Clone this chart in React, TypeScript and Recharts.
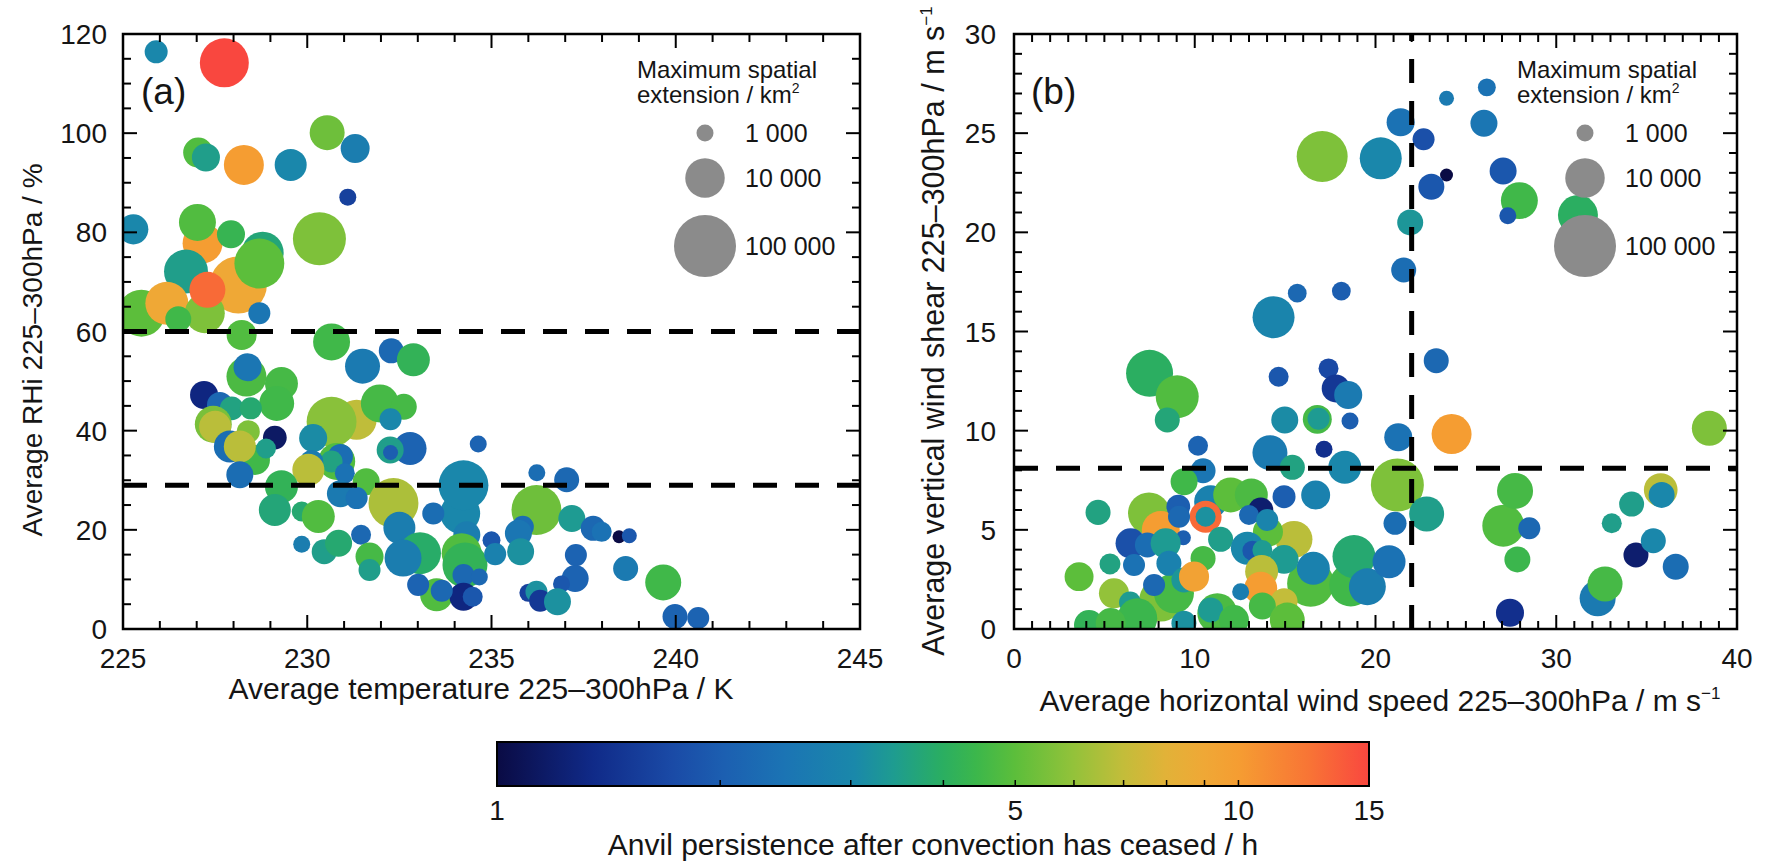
import { ScatterChart, Scatter, XAxis, YAxis, ReferenceLine, ReferenceArea, ComposedChart } from "recharts";

const FONT = '"Liberation Sans", Arial, Helvetica, sans-serif';
const INK = "#151515";

// panel (a): [average temperature K, average RHi %, max spatial extension km², anvil persistence h]
const panelA: number[][] = [
  [228.13, 69.4, 60000, 9.0], [230.33, 78.7, 40000, 5.6], [225.9, 116.4, 1850, 3.0], [227.75, 114.2, 26400, 15],
  [227.04, 96.1, 3800, 4.8], [227.25, 95.1, 3100, 3.5], [228.28, 93.6, 10500, 10], [229.55, 93.6, 4640, 3.0],
  [230.54, 100.1, 6300, 5.3], [231.3, 96.9, 3400, 2.7], [231.1, 87.1, 1000, 1.6], [225.28, 80.6, 3800, 3.0],
  [227.16, 77.8, 10500, 10], [227.02, 82.0, 7700, 4.8], [227.93, 79.6, 3100, 4.3], [228.79, 75.9, 12900, 3.7],
  [228.7, 73.7, 29000, 5.0], [225.5, 63.7, 21500, 5.0], [226.71, 72.1, 15800, 3.5], [226.19, 65.7, 14300, 9.0],
  [227.22, 63.7, 10500, 5.6], [227.29, 68.4, 7000, 13], [226.5, 62.5, 2500, 4.5], [228.7, 63.7, 1670, 2.5],
  [228.22, 59.3, 3800, 4.8], [230.66, 57.9, 7700, 4.5], [231.5, 53.0, 6300, 2.6], [232.28, 56.1, 2270, 2.2],
  [232.88, 54.3, 5140, 4.2], [228.35, 50.9, 10500, 4.7], [228.38, 52.8, 3100, 2.5], [229.3, 49.5, 5140, 4.6],
  [229.17, 45.5, 6300, 4.5], [227.2, 47.2, 3100, 1.3], [227.63, 45.2, 2500, 2.2], [227.95, 44.5, 2000, 3.6],
  [228.47, 44.5, 1670, 3.8], [227.45, 41.3, 7700, 5.5], [227.5, 40.8, 4640, 6.8], [228.4, 39.8, 1850, 5.6],
  [229.12, 38.6, 2000, 1.15], [227.9, 36.8, 4640, 2.3], [228.58, 34.1, 3800, 4.5], [228.17, 36.8, 4640, 6.8],
  [228.88, 36.4, 1360, 3.5], [228.17, 31.1, 2780, 2.3], [231.34, 42.2, 10500, 6.9], [230.66, 41.8, 29000, 5.8],
  [231.97, 45.5, 8570, 4.6], [232.62, 44.8, 2510, 4.6], [232.26, 42.3, 1670, 3.0], [230.16, 38.5, 3100, 3.1],
  [232.79, 36.4, 5140, 2.1], [232.25, 36.1, 2780, 3.5], [232.26, 35.6, 815, 2.0], [234.64, 37.3, 1000, 2.1],
  [230.8, 33.8, 7700, 4.8], [230.9, 34.8, 2270, 2.3], [230.66, 33.8, 1670, 3.6], [230.12, 33.8, 1850, 2.6],
  [230.03, 32.1, 4640, 6.8], [231.02, 31.4, 1360, 2.4], [236.23, 31.5, 1000, 2.3], [237.04, 30.1, 2270, 2.2],
  [234.15, 23.3, 10500, 3.0], [234.24, 29.0, 29000, 3.0], [229.3, 28.7, 5140, 4.2], [231.6, 29.7, 2780, 4.8],
  [232.34, 25.4, 29000, 6.5], [236.22, 24.0, 29000, 5.3], [229.12, 24.0, 4640, 3.7], [229.85, 23.7, 1360, 3.8],
  [230.3, 22.7, 5140, 4.8], [230.9, 27.3, 2780, 2.6], [231.34, 26.4, 1670, 2.4], [233.42, 23.3, 1670, 2.3],
  [237.18, 22.3, 2780, 3.4], [235.85, 20.6, 1670, 2.3], [234.33, 19.0, 2780, 2.7], [232.5, 20.4, 4640, 2.7],
  [233.06, 15.3, 12900, 3.9], [232.6, 14.3, 7700, 2.7], [234.19, 15.3, 10500, 4.8], [234.28, 12.9, 17500, 4.2],
  [234.24, 10.9, 1670, 2.2], [234.67, 10.5, 1000, 2.2], [233.51, 6.9, 5140, 4.8], [234.24, 6.5, 3100, 1.3],
  [234.49, 6.5, 1360, 1.9], [233.65, 7.7, 1670, 2.2], [233.01, 8.9, 1670, 2.1], [235.0, 17.9, 1100, 1.9],
  [235.1, 15.1, 1670, 2.8], [235.73, 19.3, 2780, 2.5], [235.79, 15.6, 2780, 3.2], [237.29, 14.9, 1670, 2.1],
  [237.27, 10.2, 2780, 2.1], [236.9, 9.1, 1000, 1.9], [236.0, 7.3, 1100, 1.6], [236.22, 7.5, 1670, 3.2],
  [236.32, 5.7, 1670, 1.5], [236.79, 5.5, 2780, 3.2], [237.76, 20.3, 2270, 2.2], [237.99, 19.6, 1360, 2.4],
  [238.46, 18.6, 660, 1.0], [238.74, 18.8, 815, 1.9], [238.64, 12.2, 2270, 2.6], [239.66, 9.4, 7000, 4.5],
  [239.98, 2.5, 2270, 2.1], [240.61, 2.2, 1670, 2.1], [229.85, 17.1, 1000, 2.7], [230.46, 15.6, 2270, 3.5],
  [230.85, 17.3, 2780, 3.8], [231.46, 19.0, 1360, 2.2], [231.69, 14.6, 3100, 4.6], [231.69, 11.9, 1670, 3.5],
];

// panel (b): [horizontal wind speed m/s, vertical wind shear m/s, max spatial extension km², anvil persistence h]
const panelB: number[][] = [
  [17.05, 23.82, 32400, 5.6], [20.29, 23.73, 12900, 3.0], [26.16, 27.31, 1100, 2.4], [23.93, 26.76, 815, 2.6],
  [21.39, 25.55, 3100, 2.4], [26.0, 25.5, 2780, 2.5], [22.66, 24.69, 1670, 1.8], [23.93, 22.89, 660, 1.0],
  [23.09, 22.3, 2510, 1.9], [27.06, 23.09, 2780, 1.9], [31.2, 20.87, 10500, 4.0], [27.96, 21.6, 7700, 4.5],
  [27.32, 20.84, 1000, 1.9], [21.92, 20.5, 2510, 3.3], [21.56, 18.1, 2270, 2.3], [15.67, 16.93, 1200, 2.2],
  [18.11, 17.04, 1200, 2.0], [14.36, 15.72, 12900, 2.9], [23.36, 13.53, 2270, 2.2], [7.5, 12.89, 21500, 4.0],
  [9.03, 11.71, 14300, 4.8], [14.64, 12.72, 1360, 1.9], [17.4, 13.14, 1360, 1.7], [17.8, 12.13, 3100, 1.5],
  [18.49, 11.8, 3100, 2.6], [8.48, 10.54, 2270, 3.7], [10.18, 9.24, 1360, 2.1], [14.98, 10.54, 2780, 3.1],
  [16.78, 10.57, 3400, 4.6], [16.85, 10.6, 1670, 3.4], [18.59, 10.49, 1000, 2.0], [21.26, 9.67, 3100, 2.4],
  [14.16, 8.89, 6300, 2.6], [17.15, 9.06, 1000, 1.4], [15.4, 8.15, 2270, 3.6], [18.3, 8.15, 5140, 3.0],
  [10.46, 7.98, 2270, 2.5], [9.41, 7.43, 2780, 4.5], [21.21, 7.26, 39800, 5.6], [24.21, 9.83, 10500, 10],
  [38.47, 10.12, 6300, 5.6], [7.47, 5.83, 12900, 5.6], [8.12, 4.99, 8570, 10], [4.65, 5.88, 2270, 3.6],
  [10.88, 6.42, 5140, 2.8], [11.99, 6.76, 6300, 5.0], [13.13, 6.76, 5140, 4.7], [9.09, 6.17, 2000, 2.0],
  [14.94, 6.67, 1850, 2.0], [16.69, 6.76, 3400, 2.8], [10.6, 5.66, 4640, 13], [10.6, 5.66, 1360, 3.2],
  [15.49, 4.52, 7700, 6.8], [14.05, 4.9, 3800, 5.0], [13.65, 6.0, 2270, 1.2], [13.0, 5.75, 1360, 2.2],
  [14.01, 5.5, 1670, 2.9], [9.13, 5.66, 1670, 2.2], [9.37, 4.6, 815, 2.0], [11.43, 4.52, 2270, 3.5],
  [6.45, 4.32, 3800, 1.8], [7.38, 4.24, 2270, 2.3], [8.39, 4.32, 3800, 3.4], [12.91, 4.07, 5140, 3.0],
  [13.19, 3.95, 1360, 1.9], [13.74, 3.98, 1360, 3.4], [16.41, 2.3, 21500, 4.8], [18.63, 2.22, 14300, 4.5],
  [18.81, 3.65, 14300, 3.8], [19.55, 2.13, 7700, 2.7], [20.75, 3.39, 5140, 2.4], [14.94, 3.51, 3400, 3.4],
  [10.46, 3.56, 2270, 4.6], [16.56, 3.06, 5140, 2.8], [8.12, 1.46, 14300, 5.6], [8.85, 1.8, 10500, 4.6],
  [5.31, 3.28, 1500, 3.6], [3.6, 2.64, 3400, 5.0], [6.64, 3.23, 1670, 2.4], [7.75, 2.22, 1670, 2.2],
  [8.57, 3.31, 2270, 2.8], [9.4, 2.47, 2270, 3.3], [9.96, 2.64, 3800, 9.5], [5.53, 1.8, 3800, 6.0],
  [6.42, 1.33, 1670, 3.4], [13.7, 2.9, 5140, 6.8], [13.65, 2.05, 5140, 10], [12.54, 1.88, 1000, 2.7],
  [14.94, 1.38, 2780, 7.0], [13.74, 1.16, 2780, 4.6], [11.25, 0.79, 10500, 4.7], [10.88, 0.96, 2270, 3.4],
  [9.4, 0.29, 2270, 3.2], [6.82, 0.54, 10500, 4.4], [4.15, 0.2, 3800, 4.2], [5.35, 0.3, 3800, 4.6],
  [12.17, 0.45, 3800, 4.5], [15.12, 0.45, 6300, 5.0], [21.08, 5.33, 1850, 2.3], [22.83, 5.8, 6300, 3.5],
  [27.07, 5.21, 12900, 4.8], [27.72, 6.96, 7000, 4.6], [28.51, 5.08, 1670, 2.2], [27.85, 3.51, 2510, 4.4],
  [27.44, 0.82, 3100, 1.4], [32.29, 1.55, 7000, 2.6], [32.7, 2.27, 6300, 4.6], [33.07, 5.33, 1360, 3.5],
  [34.17, 6.3, 2270, 3.5], [34.41, 3.73, 2270, 1.2], [35.37, 4.45, 2270, 3.0], [35.78, 7.01, 5500, 6.8],
  [35.83, 6.76, 2510, 3.0], [36.61, 3.14, 2510, 2.3],
];

const tempMajor = [225, 230, 235, 240, 245];
const rhiMajor = [0, 20, 40, 60, 80, 100, 120];
const windMajor = [0, 10, 20, 30, 40];
const shearMajor = [0, 5, 10, 15, 20, 25, 30];
const rhiThresholds = [60, 29];
const windThreshold = 22;
const shearThreshold = 8.1;

const legendAreas = [1000, 10000, 100000];
const legendLabels = ["1 000", "10 000", "100 000"];
const cbarTicks = [1, 2, 3, 4, 5, 6, 7, 8, 9, 10, 15];
const cbarLabels = [1, 5, 10, 15];

// colour map, position along log(h)/log(15)
const COLOR_STOPS: [number, string][] = [
  [0, "#0a0b44"], [0.11, "#102a88"], [0.2, "#1a4aa6"], [0.26, "#1c5fb1"], [0.33, "#1b74b4"],
  [0.41, "#1a88aa"], [0.455, "#1e9c90"], [0.51, "#2aae62"], [0.55, "#3cb74b"], [0.594, "#5cbe3b"],
  [0.66, "#92c23a"], [0.717, "#c2bd3a"], [0.767, "#e2b238"], [0.81, "#efa836"], [0.85, "#f59d32"],
  [0.93, "#f87535"], [1, "#f9473f"],
];

const hex = (c: string) => [1, 3, 5].map((i) => parseInt(c.slice(i, i + 2), 16));

function persistColor(h: number) {
  const t = Math.min(1, Math.max(0, Math.log(h) / Math.log(15)));
  for (let i = 1; i < COLOR_STOPS.length; i++) {
    const [t1, c1] = COLOR_STOPS[i];
    if (t <= t1) {
      const [t0, c0] = COLOR_STOPS[i - 1];
      const f = (t - t0) / (t1 - t0);
      const a = hex(c0);
      const b = hex(c1);
      return `rgb(${a.map((v, k) => Math.round(v + (b[k] - v) * f)).join(",")})`;
    }
  }
  return COLOR_STOPS[COLOR_STOPS.length - 1][1];
}

// bubble diameter grows with log10 of the spatial extension
const radius = (area: number) => (17 + 22.5 * (Math.log10(area) - 3)) / 2;

const steps = (min: number, max: number, step: number) => {
  const out: number[] = [];
  for (let v = min; v <= max + 1e-9; v += step) out.push(Math.round(v * 100) / 100);
  return out;
};

const toPoints = (rows: number[][]) => rows.map(([x, y, area, hours]) => ({ x, y, area, hours }));

const Bubble = (p: any) => (
  <circle cx={p.cx} cy={p.cy} r={radius(p.payload.area)} fill={persistColor(p.payload.hours)} />
);

const PLOT_H = 595;

function XTick(props: any) {
  const { x, y, payload, majors } = props;
  const v = payload.value;
  const major = majors.includes(v);
  const len = major ? 14 : 8;
  return (
    <g>
      <line x1={x} x2={x} y1={y} y2={y - len} stroke="#000" strokeWidth={2} />
      <line x1={x} x2={x} y1={y - PLOT_H} y2={y - PLOT_H + len} stroke="#000" strokeWidth={2} />
      {major && (
        <text x={x} y={y + 39} textAnchor="middle" fontSize={28} fontFamily={FONT} fill={INK}>
          {v}
        </text>
      )}
    </g>
  );
}

function YTick(props: any) {
  const { x, y, payload, majors, plotW, gap } = props;
  const v = payload.value;
  const major = majors.includes(v);
  const len = major ? 14 : 8;
  return (
    <g>
      <line x1={x} x2={x + len} y1={y} y2={y} stroke="#000" strokeWidth={2} />
      <line x1={x + plotW} x2={x + plotW - len} y1={y} y2={y} stroke="#000" strokeWidth={2} />
      {major && (
        <text x={x - gap} y={y + 10} textAnchor="end" fontSize={28} fontFamily={FONT} fill={INK}>
          {v}
        </text>
      )}
    </g>
  );
}

function CbarTick(props: any) {
  const { x, y, payload } = props;
  const v = payload.value;
  return (
    <g>
      {v > 1 && v < 15 && <line x1={x} x2={x} y1={y} y2={y - 6} stroke="#000" strokeWidth={1.5} />}
      {cbarLabels.includes(v) && (
        <text x={x} y={y + 34} textAnchor="middle" fontSize={28} fontFamily={FONT} fill={INK}>
          {v}
        </text>
      )}
    </g>
  );
}

function SizeLegend({ left }: { left: number }) {
  const cx = left + 68;
  const rows = [133, 178, 246];
  return (
    <g fontFamily={FONT} fill={INK}>
      <text x={left} y={78} fontSize={24}>Maximum spatial</text>
      <text x={left} y={103} fontSize={24}>
        extension / km<tspan dy={-10} fontSize={14}>2</tspan>
      </text>
      {legendAreas.map((a, i) => (
        <g key={a}>
          <circle cx={cx} cy={rows[i]} r={radius(a)} fill="#8b8b8b" />
          <text x={left + 108} y={rows[i] + 9} fontSize={25}>
            {legendLabels[i]}
          </text>
        </g>
      ))}
    </g>
  );
}

export default function App() {
  const dataA = toPoints(panelA);
  const dataB = toPoints(panelB);
  const cbarData = cbarTicks.map((h, i) => ({ h, y: i % 2 }));
  const dash = { stroke: "#000", strokeWidth: 5, strokeDasharray: "24 18" };

  return (
    <div style={{ position: "absolute", left: 0, top: 0, width: 1776, height: 863, background: "#fff", overflow: "hidden" }}>
      <div style={{ position: "absolute", left: 0, top: 0 }}>
        <ScatterChart width={900} height={700} margin={{ top: 34, right: 40, bottom: 11, left: 0 }}>
          <XAxis
            type="number"
            dataKey="x"
            domain={[225, 245]}
            ticks={steps(225, 245, 1)}
            interval={0}
            allowDataOverflow
            height={60}
            axisLine={false}
            tickSize={0}
            tickMargin={0}
            tick={(p: any) => <XTick {...p} majors={tempMajor} />}
          />
          <YAxis
            type="number"
            dataKey="y"
            domain={[0, 120]}
            ticks={steps(0, 120, 5)}
            interval={0}
            allowDataOverflow
            width={123}
            axisLine={false}
            tickSize={0}
            tickMargin={0}
            tick={(p: any) => <YTick {...p} majors={rhiMajor} plotW={737} gap={16} />}
          />
          <Scatter data={dataA} shape={Bubble} isAnimationActive={false} />
          {rhiThresholds.map((v) => (
            <ReferenceLine key={v} y={v} {...dash} zIndex={1000} />
          ))}
          <ReferenceArea x1={225} x2={245} y1={0} y2={120} fill="none" stroke="#000" strokeWidth={2.5} zIndex={1000} />
        </ScatterChart>
      </div>

      <div style={{ position: "absolute", left: 880, top: 0 }}>
        <ScatterChart width={896} height={700} margin={{ top: 34, right: 39, bottom: 11, left: 0 }}>
          <XAxis
            type="number"
            dataKey="x"
            domain={[0, 40]}
            ticks={steps(0, 40, 1)}
            interval={0}
            allowDataOverflow
            height={60}
            axisLine={false}
            tickSize={0}
            tickMargin={0}
            tick={(p: any) => <XTick {...p} majors={windMajor} />}
          />
          <YAxis
            type="number"
            dataKey="y"
            domain={[0, 30]}
            ticks={steps(0, 30, 1)}
            interval={0}
            allowDataOverflow
            width={134}
            axisLine={false}
            tickSize={0}
            tickMargin={0}
            tick={(p: any) => <YTick {...p} majors={shearMajor} plotW={723} gap={18} />}
          />
          <Scatter data={dataB} shape={Bubble} isAnimationActive={false} />
          <ReferenceLine x={windThreshold} {...dash} zIndex={1000} />
          <ReferenceLine y={shearThreshold} {...dash} zIndex={1000} />
          <ReferenceArea x1={0} x2={40} y1={0} y2={30} fill="none" stroke="#000" strokeWidth={2.5} zIndex={1000} />
        </ScatterChart>
      </div>

      <div style={{ position: "absolute", left: 480, top: 730 }}>
        <ComposedChart width={940} height={130} data={cbarData} margin={{ top: 12, right: 51, bottom: 0, left: 17 }}>
          <defs>
            <linearGradient id="cbarGrad" x1="0" x2="1" y1="0" y2="0">
              {COLOR_STOPS.map(([t, c]) => (
                <stop key={t} offset={t} stopColor={c} />
              ))}
            </linearGradient>
          </defs>
          <XAxis
            type="number"
            dataKey="h"
            scale="log"
            domain={[1, 15]}
            ticks={cbarTicks}
            interval={0}
            allowDataOverflow
            height={74}
            axisLine={false}
            tickSize={0}
            tickMargin={0}
            tick={(p: any) => <CbarTick {...p} />}
          />
          <YAxis type="number" dataKey="y" domain={[0, 1]} allowDataOverflow hide />
          <Scatter data={cbarData} dataKey="y" shape={() => <g />} isAnimationActive={false} />
          <ReferenceArea
            x1={1}
            x2={15}
            y1={0}
            y2={1}
            ifOverflow="visible"
            fill="url(#cbarGrad)"
            fillOpacity={1}
            stroke="#000"
            strokeWidth={2}
          />
        </ComposedChart>
      </div>

      <svg width={1776} height={863} style={{ position: "absolute", left: 0, top: 0, pointerEvents: "none" }}>
        <g fontFamily={FONT} fill={INK}>
          <text x={141} y={104} fontSize={37}>(a)</text>
          <text x={1031} y={104} fontSize={37}>(b)</text>
          <text transform="translate(42,350) rotate(-90)" textAnchor="middle" fontSize={28}>
            Average RHi 225–300hPa / %
          </text>
          <text transform="translate(944,331) rotate(-90)" textAnchor="middle" fontSize={30.5}>
            Average vertical wind shear 225–300hPa / m s<tspan dy={-12} fontSize={17}>−1</tspan>
          </text>
          <text x={481} y={699} textAnchor="middle" fontSize={30}>
            Average temperature 225–300hPa / K
          </text>
          <text x={1380} y={711} textAnchor="middle" fontSize={30}>
            Average horizontal wind speed 225–300hPa / m s<tspan dy={-12} fontSize={17}>−1</tspan>
          </text>
          <text x={933} y={855} textAnchor="middle" fontSize={30}>
            Anvil persistence after convection has ceased / h
          </text>
        </g>
        <SizeLegend left={637} />
        <SizeLegend left={1517} />
      </svg>
    </div>
  );
}
